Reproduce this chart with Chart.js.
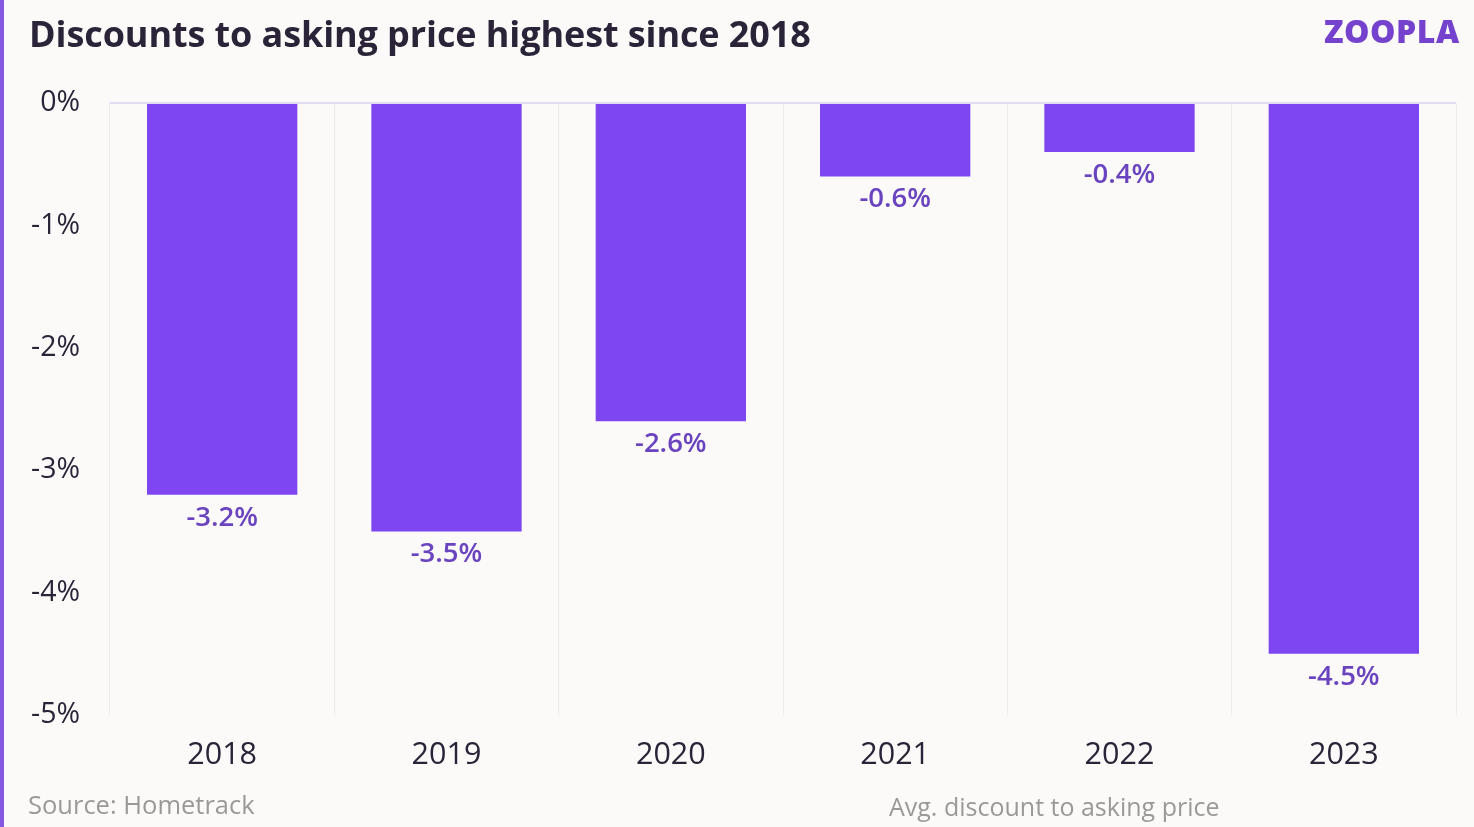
<!DOCTYPE html>
<html>
<head>
<meta charset="utf-8">
<script src="https://cdn.jsdelivr.net/npm/chart.js@4"></script>
<style>
  html, body { margin: 0; padding: 0; }
  body { width: 1474px; height: 827px; background: #fcfaf9; position: relative; overflow: hidden; font-family: "Open Sans", sans-serif; }
  #bar { position: absolute; left: 0; top: 0; width: 4px; height: 827px; background: #8759e3; }
  #title { position: absolute; left: 29px; top: 9px; font-size: 36px; font-weight: 700; color: #2b2438; white-space: nowrap; letter-spacing: -0.1px; }
  #logo { position: absolute; left: 1324px; top: 9px; font-size: 32px; font-weight: 800; color: #7442cc; letter-spacing: 0.5px; }
  #source { position: absolute; left: 28px; top: 787px; font-size: 25.5px; color: #9b9898; }
  #note { position: absolute; left: 889px; top: 789px; font-size: 25px; color: #9b9898; white-space: nowrap; }
  #wrap { position: absolute; left: 0; top: 0; width: 1474px; height: 827px; }
</style>
</head>
<body>
<div id="wrap"><canvas id="discountChart"></canvas></div>
<div id="bar"></div>
<div id="title">Discounts to asking price highest since 2018</div>
<div id="logo">ZOOPLA</div>
<div id="source">Source: Hometrack</div>
<div id="note">Avg. discount to asking price</div>
<script>
const years = ['2018', '2019', '2020', '2021', '2022', '2023'];
const discounts = [-3.2, -3.5, -2.6, -0.6, -0.4, -4.5];
const yTicks = [0, -1, -2, -3, -4, -5];

// Draw the value under each bar end
const valueLabels = {
  id: 'valueLabels',
  afterDatasetsDraw(chart) {
    const ctx = chart.ctx;
    const meta = chart.getDatasetMeta(0);
    ctx.save();
    ctx.font = '600 27.5px "Open Sans"';
    ctx.fillStyle = '#6a44bf';
    ctx.textAlign = 'center';
    ctx.textBaseline = 'middle';
    meta.data.forEach((bar, i) => {
      ctx.fillText(discounts[i].toFixed(1) + '%', bar.x, bar.y + 23);
    });
    ctx.restore();
  }
};

new Chart(document.getElementById('discountChart'), {
  type: 'bar',
  data: {
    labels: years,
    datasets: [{
      data: discounts,
      backgroundColor: '#7d46f0',
      borderWidth: 0,
      categoryPercentage: 1,
      barPercentage: 0.67
    }]
  },
  options: {
    responsive: true,
    maintainAspectRatio: false,
    animation: false,
    layout: { padding: { top: 103, right: 18, left: 0, bottom: 0 } },
    plugins: { legend: { display: false }, tooltip: { enabled: false } },
    scales: {
      x: {
        offset: true,
        grid: { offset: true, color: '#efebe9', drawTicks: false },
        border: { display: false },
        ticks: { color: '#2b2438', font: { size: 30.5, family: 'Open Sans' }, padding: 22 },
        afterFit: s => { s.height = 112; }
      },
      y: {
        min: -5,
        max: 0,
        afterBuildTicks: s => { s.ticks = yTicks.map(v => ({ value: v })); },
        grid: {
          drawTicks: false,
          color: c => (c.tick && c.tick.value === 0) ? '#e3ddf4' : 'rgba(0,0,0,0)',
          lineWidth: 2
        },
        border: { display: false },
        ticks: {
          color: '#2b2438',
          font: { size: 28.5, family: 'Open Sans' },
          padding: 30,
          callback: v => v + '%'
        },
        afterFit: s => { s.width = 110; }
      }
    }
  },
  plugins: [valueLabels]
});
</script>
</body>
</html>
